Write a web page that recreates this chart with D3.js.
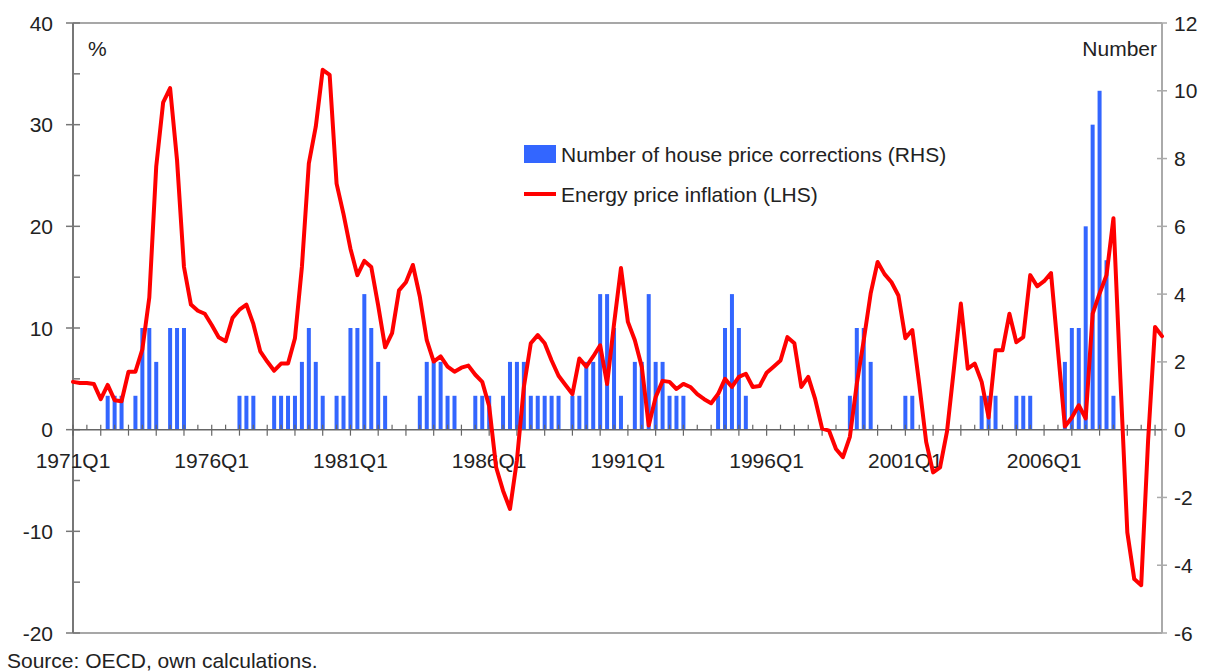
<!DOCTYPE html>
<html>
<head>
<meta charset="utf-8">
<script src="https://cdn.jsdelivr.net/npm/d3@7"></script>
<style>
  html, body { margin: 0; padding: 0; background: #fff; }
  svg { display: block; }
  text { font-family: "Liberation Sans", Arial, sans-serif; fill: #222; }
</style>
</head>
<body>
<svg id="chart" width="1217" height="672"></svg>
<script>
// ---- Data ----
const startYear = 1971;
const quarterCount = 158; // 1971Q1 .. 2010Q2
const categories = [];
for (let k = 0; k < quarterCount; k++) {
  categories.push((startYear + Math.floor(k / 4)) + "Q" + (k % 4 + 1));
}
const tickLabels = ["1971Q1", "1976Q1", "1981Q1", "1986Q1", "1991Q1", "1996Q1", "2001Q1", "2006Q1"];

// Number of house price corrections (RHS)
const corrections = [
  0,0,0,0,0,1,1,1,0,1,
  3,3,2,0,3,3,3,0,0,0,
  0,0,0,0,1,1,1,0,0,1,
  1,1,1,2,3,2,1,0,1,1,
  3,3,4,3,2,1,0,0,0,0,
  1,2,2,2,1,1,0,0,1,1,
  1,0,1,2,2,2,1,1,1,1,
  1,0,1,1,2,2,4,4,3,1,
  0,2,2,4,2,2,1,1,1,0,
  0,0,0,1,3,4,3,1,0,0,
  0,0,0,0,0,0,0,0,0,0,
  0,0,1,3,3,2,0,0,0,0,
  1,1,0,0,0,0,0,0,0,0,
  0,1,1,1,0,0,1,1,1,0,
  0,0,0,2,3,3,6,9,10,5,
  1,0,0,0,0,0,0,0
];

// Energy price inflation (LHS), %
const energyInflation = [
  4.7,4.6,4.6,4.5,3.0,4.4,2.9,2.8,5.7,5.7,
  7.9,13.0,25.9,32.2,33.6,26.5,16.0,12.3,11.7,11.4,
  10.3,9.1,8.7,11.0,11.8,12.3,10.4,7.7,6.7,5.8,
  6.5,6.5,9.0,16.0,26.2,29.8,35.4,34.9,24.2,21.2,
  17.8,15.2,16.6,16.0,12.2,8.1,9.5,13.7,14.5,16.2,
  13.1,8.8,6.7,7.2,6.2,5.7,6.1,6.3,5.4,4.7,
  2.3,-3.7,-6.0,-7.8,-3.0,4.2,8.5,9.3,8.5,6.8,
  5.3,4.4,3.5,7.0,6.2,7.2,8.3,4.5,10.4,15.9,
  10.6,8.8,6.2,0.4,3.2,4.8,4.7,4.0,4.5,4.2,
  3.5,3.0,2.6,3.5,5.0,4.2,5.2,5.5,4.2,4.3,
  5.6,6.2,6.8,9.1,8.5,4.2,5.2,3.0,0.1,-0.1,
  -1.9,-2.7,-0.7,4.5,8.8,13.4,16.5,15.3,14.5,13.2,
  9.0,9.8,4.5,-1.2,-4.2,-3.7,-0.2,6.0,12.4,6.0,
  6.5,4.7,1.2,7.8,7.8,11.4,8.6,9.1,15.2,14.1,
  14.6,15.4,7.8,0.3,1.2,2.4,1.1,11.4,13.4,15.2,
  20.8,5.0,-10.1,-14.7,-15.3,-1.0,10.1,9.2
];

const leftTicks = [-20, -10, 0, 10, 20, 30, 40];
const rightTicks = [-6, -4, -2, 0, 2, 4, 6, 8, 10, 12];
const legendLabels = ["Number of house price corrections (RHS)", "Energy price inflation (LHS)"];

// ---- Layout ----
const L = 73, R = 1162, T = 23, B = 633;
const svg = d3.select("#chart");
const axisColor = "#8a8a8a";
const fontSize = "21px";

const x = d3.scalePoint().domain(categories).range([L, R]);
const yL = d3.scaleLinear().domain([-20, 40]).range([B, T]);
const yR = d3.scaleLinear().domain([-6, 12]).range([B, T]);

// Frame top & bottom
svg.append("line").attr("x1", L).attr("x2", R).attr("y1", T).attr("y2", T)
  .attr("stroke", axisColor).attr("stroke-width", 1.5);
svg.append("line").attr("x1", L).attr("x2", R).attr("y1", B).attr("y2", B)
  .attr("stroke", axisColor).attr("stroke-width", 1.5);

// Bars
svg.append("g").selectAll("rect")
  .data(categories.map((c, i) => ({ c, v: corrections[i] })).filter(d => d.v > 0))
  .join("rect")
  .attr("x", d => x(d.c) - 2)
  .attr("width", 4)
  .attr("y", d => yR(d.v))
  .attr("height", d => yR(0) - yR(d.v))
  .attr("fill", "#3366ff");

// Left axis
const gL = svg.append("g");
gL.append("line").attr("x1", L).attr("x2", L).attr("y1", T).attr("y2", B)
  .attr("stroke", "#777").attr("stroke-width", 2);
d3.range(-20, 41, 5).forEach(v => {
  const major = v % 10 === 0;
  gL.append("line")
    .attr("x1", major ? L - 7 : L).attr("x2", L + 7)
    .attr("y1", yL(v)).attr("y2", yL(v))
    .attr("stroke", "#777").attr("stroke-width", 1.5);
});
gL.selectAll("text").data(leftTicks).join("text")
  .attr("x", 53).attr("y", d => yL(d))
  .attr("dy", "0.36em")
  .attr("text-anchor", "end")
  .style("font-size", fontSize)
  .text(d => d);

// Right axis
const gR = svg.append("g");
gR.append("line").attr("x1", R).attr("x2", R).attr("y1", T).attr("y2", B)
  .attr("stroke", "#aaa").attr("stroke-width", 2);
rightTicks.forEach(v => {
  gR.append("line")
    .attr("x1", R - 5).attr("x2", R + 5)
    .attr("y1", yR(v)).attr("y2", yR(v))
    .attr("stroke", "#aaa").attr("stroke-width", 1.5);
});
gR.selectAll("text").data(rightTicks).join("text")
  .attr("x", 1174).attr("y", d => yR(d))
  .attr("dy", "0.36em")
  .attr("text-anchor", "start")
  .style("font-size", fontSize)
  .text(d => d);

// X axis at zero
const y0 = yL(0);
const gX = svg.append("g");
gX.append("line").attr("x1", L).attr("x2", R).attr("y1", y0).attr("y2", y0)
  .attr("stroke", "#666").attr("stroke-width", 1.5);
categories.forEach((c, i) => {
  if (i % 2 !== 0) return;
  const yearTick = i % 4 === 0;
  gX.append("line")
    .attr("x1", x(c)).attr("x2", x(c))
    .attr("y1", y0 - 5).attr("y2", yearTick ? y0 + 6 : y0)
    .attr("stroke", "#666").attr("stroke-width", 1.2);
});
gX.selectAll("text").data(tickLabels).join("text")
  .attr("x", d => x(d)).attr("y", 468)
  .attr("text-anchor", "middle")
  .style("font-size", fontSize)
  .text(d => d);

// Line
const line = d3.line()
  .x((d, i) => x(categories[i]))
  .y(d => yL(d));
svg.append("path")
  .datum(energyInflation)
  .attr("d", line)
  .attr("fill", "none")
  .attr("stroke", "#ff0000")
  .attr("stroke-width", 4)
  .attr("stroke-linejoin", "round")
  .attr("stroke-linecap", "round");

// Unit labels
svg.append("text").attr("x", 88).attr("y", 56).style("font-size", fontSize).text("%");
svg.append("text").attr("x", 1157).attr("y", 56).attr("text-anchor", "end")
  .style("font-size", fontSize).text("Number");

// Legend
svg.append("rect").attr("x", 524).attr("y", 145).attr("width", 32).attr("height", 18)
  .attr("fill", "#3366ff");
svg.append("text").attr("x", 561).attr("y", 162).style("font-size", fontSize).text(legendLabels[0]);
svg.append("line").attr("x1", 524).attr("x2", 556).attr("y1", 194).attr("y2", 194)
  .attr("stroke", "#ff0000").attr("stroke-width", 4);
svg.append("text").attr("x", 561).attr("y", 202).style("font-size", fontSize).text(legendLabels[1]);

// Source
svg.append("text").attr("x", 7).attr("y", 668).style("font-size", fontSize)
  .text("Source: OECD, own calculations.");
</script>
</body>
</html>
